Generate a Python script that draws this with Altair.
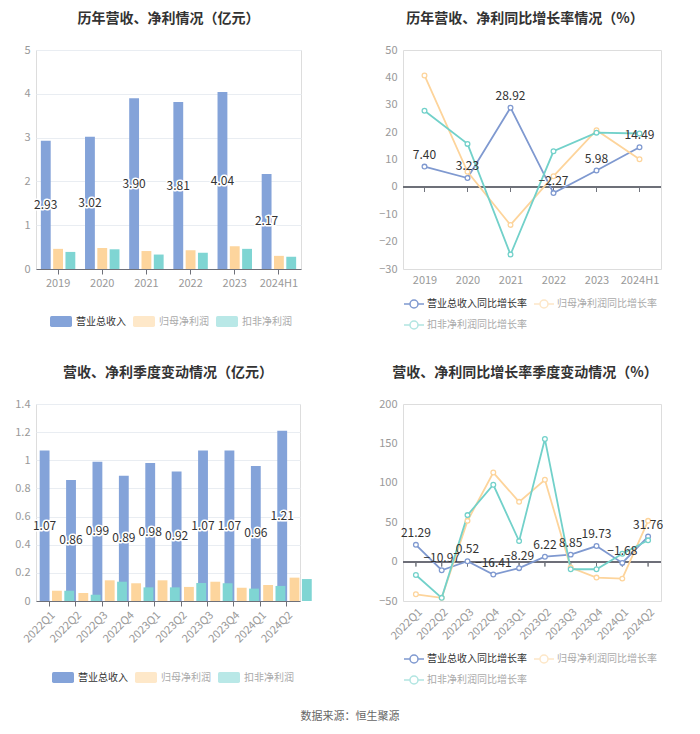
import altair as alt
import pandas as pd

FONT = "Noto Sans CJK SC"

# ---------------- data ----------------
years = ["2019", "2020", "2021", "2022", "2023", "2024H1"]
rev_y = [2.93, 3.02, 3.90, 3.81, 4.04, 2.17]
np_y = [0.46, 0.48, 0.41, 0.43, 0.52, 0.30]
kf_y = [0.39, 0.45, 0.33, 0.37, 0.46, 0.28]

rev_g_y = [7.40, 3.23, 28.92, -2.27, 5.98, 14.49]
np_g_y = [40.7, 5.5, -13.9, 3.9, 20.7, 10.1]
kf_g_y = [27.8, 15.7, -24.7, 13.0, 19.8, 19.5]

quarters = ["2022Q1", "2022Q2", "2022Q3", "2022Q4", "2023Q1",
            "2023Q2", "2023Q3", "2023Q4", "2024Q1", "2024Q2"]
rev_q = [1.07, 0.86, 0.99, 0.89, 0.98, 0.92, 1.07, 1.07, 0.96, 1.21]
np_q = [0.073, 0.057, 0.147, 0.126, 0.147, 0.10, 0.137, 0.095, 0.114, 0.166]
kf_q = [0.073, 0.045, 0.137, 0.097, 0.097, 0.128, 0.126, 0.088, 0.107, 0.156]

rev_g_q = [21.29, -10.97, 0.52, -16.41, -8.29, 6.22, 8.85, 19.73, -1.68, 31.76]
np_g_q = [-41.5, -46.0, 51.7, 113.0, 75.8, 103.8, -7.6, -20.3, -21.6, 51.7]
kf_g_q = [-17.0, -46.0, 59.0, 97.5, 26.0, 155.5, -9.7, -9.7, 10.0, 27.0]

yticks_tl = [0, 1, 2, 3, 4, 5]
yticks_tr = [-30, -20, -10, 0, 10, 20, 30, 40, 50]
yticks_bl = [0, 0.2, 0.4, 0.6, 0.8, 1.0, 1.2, 1.4]
yticks_br = [-50, 0, 50, 100, 150, 200]

SOURCE = ["数据来源：恒生聚源"]

S_BAR = ["营业总收入", "归母净利润", "扣非净利润"]
S_LINE = ["营业总收入同比增长率", "归母净利润同比增长率", "扣非净利润同比增长率"]
BAR_COLORS = ["#84a3d9", "#fdd59d", "#7fd5d3"]
LINE_COLORS = ["#7f99d0", "#fdd49b", "#72d1ca"]

BAR_SYM = "M-0.7,-1 L2.7,-1 Q3,-1 3,-0.7 L3,0.7 Q3,1 2.7,1 L-0.7,1 Q-1,1 -1,0.7 L-1,-0.7 Q-1,-1 -0.7,-1 Z"
LINE_SYM = ("M-1,0 L0.2,0 M1.8,0 L3,0 M1.8,0 A0.8,0.8 0 1,1 0.2,0 "
            "A0.8,0.8 0 1,1 1.8,0")

AXIS_LABEL = "#999"


def long_df(cats, names, arrays):
    rows = []
    for s, arr in zip(names, arrays):
        for c, v in zip(cats, arr):
            rows.append({"cat": c, "series": s, "value": v})
    return pd.DataFrame(rows)


def title(text, dx=0):
    return alt.TitleParams(text, fontSize=14, fontWeight="bold", color="#333",
                           anchor="middle", offset=18, font=FONT, dx=dx)


def y_axis(yticks, fmt, extent):
    return alt.Axis(title=None, values=yticks, format=fmt, domain=False,
                    ticks=False, labelColor=AXIS_LABEL, labelFontSize=11,
                    gridColor="#e9edf2", labelPadding=6, labelOverlap=False,
                    minExtent=extent, maxExtent=extent)


def bar_chart(cats, arrays, ttl, w, h, ydom, yticks, label_angle, pad_inner,
              extent, lx, ly, source=False):
    df = long_df(cats, S_BAR, arrays)
    x = alt.X("cat:N", sort=cats,
              scale=alt.Scale(paddingInner=pad_inner, paddingOuter=pad_inner / 2),
              axis=alt.Axis(title=None, labelAngle=label_angle, domainColor="#6e7079",
                            tickColor="#6e7079", tickSize=5, labelColor=AXIS_LABEL,
                            labelFontSize=11, labelPadding=3, grid=False,
                            labelOverlap=False))
    yscale = alt.Scale(domain=ydom, nice=False)
    y = alt.Y("value:Q", scale=yscale, axis=y_axis(yticks, "~g", extent))
    xo = alt.XOffset("series:N", sort=S_BAR,
                     scale=alt.Scale(domain=S_BAR, paddingInner=0.2))
    legend = alt.Legend(
        title=None, orient="none", legendX=lx, legendY=ly, direction="horizontal",
        columns=3, symbolType=BAR_SYM, symbolSize=121, symbolStrokeWidth=0,
        labelOffset=15, columnPadding=7, labelFontSize=10, labelFont=FONT,
        labelColor={"expr": f"datum.value == '{S_BAR[0]}' ? '#333' : '#aaa'"},
        symbolOpacity={"expr": f"datum.value == '{S_BAR[0]}' ? 1 : 0.55"})
    bars = alt.Chart(df).mark_bar().encode(
        x=x, y=y, xOffset=xo,
        color=alt.Color("series:N", sort=S_BAR,
                        scale=alt.Scale(domain=S_BAR, range=BAR_COLORS), legend=legend))
    base_txt = alt.Chart(df).transform_filter(
        alt.datum.series == S_BAR[0]
    ).transform_calculate(half="datum.value / 2")
    enc = dict(x=x, y=alt.Y("half:Q", scale=yscale, axis=y_axis(yticks, "~g", extent)),
               xOffset=xo, text=alt.Text("value:Q", format=".2f"))
    halo = base_txt.mark_text(fontSize=12, color="white", stroke="white",
                              strokeWidth=3, strokeJoin="round").encode(**enc)
    txt = base_txt.mark_text(fontSize=12, color="#333").encode(**enc)
    layers = [bars, halo, txt]
    if source:
        src = alt.Chart(pd.DataFrame({"t": SOURCE})).mark_text(
            fontSize=11, color="#666", align="center", baseline="middle").encode(
            x=alt.value(314), y=alt.value(313), text="t:N")
        layers.append(src)
    return alt.layer(*layers).properties(width=w, height=h, title=title(ttl))


def line_chart(cats, arrays, ttl, w, h, ydom, yticks, label_angle, extent, lx, ly,
               tdx=0):
    df = long_df(cats, S_LINE, arrays)
    xs = alt.Scale(type="point", padding=0.5)
    x = alt.X("cat:N", sort=cats, scale=xs,
              axis=alt.Axis(title=None, domain=False, ticks=False, labelAngle=label_angle,
                            labelColor=AXIS_LABEL, labelFontSize=11, grid=False,
                            labelPadding=5, labelOverlap=False))
    y = alt.Y("value:Q", scale=alt.Scale(domain=ydom, nice=False),
              axis=y_axis(yticks, "d", extent))
    sscale = alt.Scale(domain=S_LINE, range=LINE_COLORS)
    legend = alt.Legend(
        title=None, orient="none", legendX=lx, legendY=ly, direction="horizontal",
        columns=2, symbolType=LINE_SYM, symbolSize=100, symbolStrokeWidth=1.5,
        symbolFillColor="white", labelOffset=12, columnPadding=4, rowPadding=7,
        labelFontSize=10, labelFont=FONT,
        labelColor={"expr": f"datum.value == '{S_LINE[0]}' ? '#333' : '#aaa'"},
        symbolOpacity={"expr": f"datum.value == '{S_LINE[0]}' ? 1 : 0.55"})
    zero = alt.Chart(df).mark_rule(color="#6e7079", strokeWidth=1).encode(
        y=alt.Y(datum=0, scale=alt.Scale(domain=ydom, nice=False),
                axis=y_axis(yticks, "d", extent)))
    ticks = alt.Chart(df).mark_tick(orient="vertical", size=5, thickness=1,
                                    color="#6e7079", yOffset=2.5).encode(
        x=x, y=alt.Y(datum=0, axis=y_axis(yticks, "d", extent)))
    lines = alt.Chart(df).mark_line(strokeWidth=1.8).encode(
        x=x, y=y, stroke=alt.Stroke("series:N", sort=S_LINE, scale=sscale, legend=legend))
    pts = alt.Chart(df).mark_point(shape="circle", filled=True, fill="white",
                                   size=22, strokeWidth=1.3, opacity=1).encode(
        x=x, y=y,
        stroke=alt.Stroke("series:N", sort=S_LINE, scale=sscale, legend=None))
    txt = alt.Chart(df).transform_filter(alt.datum.series == S_LINE[0]).mark_text(
        fontSize=12, color="#333", dy=-12).encode(
        x=x, y=y, text=alt.Text("value:Q", format=".2f"))
    return alt.layer(zero, ticks, lines, pts, txt).properties(
        width=w, height=h, title=title(ttl, tdx))


tl = bar_chart(years, [rev_y, np_y, kf_y], "历年营收、净利情况（亿元）", 265, 219,
               [0, 5], yticks_tl, 0, 0.22, 20, 14, 266)
tr = line_chart(years, [rev_g_y, np_g_y, kf_g_y], "历年营收、净利同比增长率情况（%）",
                258, 219, [-30, 50], yticks_tr, 0, 30, 0, 248, tdx=-7)
bl = bar_chart(quarters, [rev_q, np_q, kf_q], "营收、净利季度变动情况（亿元）", 264, 197,
               [0, 1.4], yticks_bl, -45, 0.28, 27, 16, 268, source=True)
br = line_chart(quarters, [rev_g_q, np_g_q, kf_g_q], "营收、净利同比增长率季度变动情况（%）",
                258, 197, [-50, 200], yticks_br, -45, 30, 0, 249, tdx=-7)

RES = dict(color="independent", stroke="independent")
chart = alt.concat(
    tl, tr, bl, br, columns=2, bounds="flush",
    spacing={"row": 135, "column": 102}
).resolve_scale(**RES).resolve_legend(**RES).properties(
    padding={"left": 0, "top": 3, "right": 5, "bottom": 0}
).configure_view(stroke=None).configure(font=FONT)

chart.save("out.html", embed_options={"renderer": "svg", "actions": False})
